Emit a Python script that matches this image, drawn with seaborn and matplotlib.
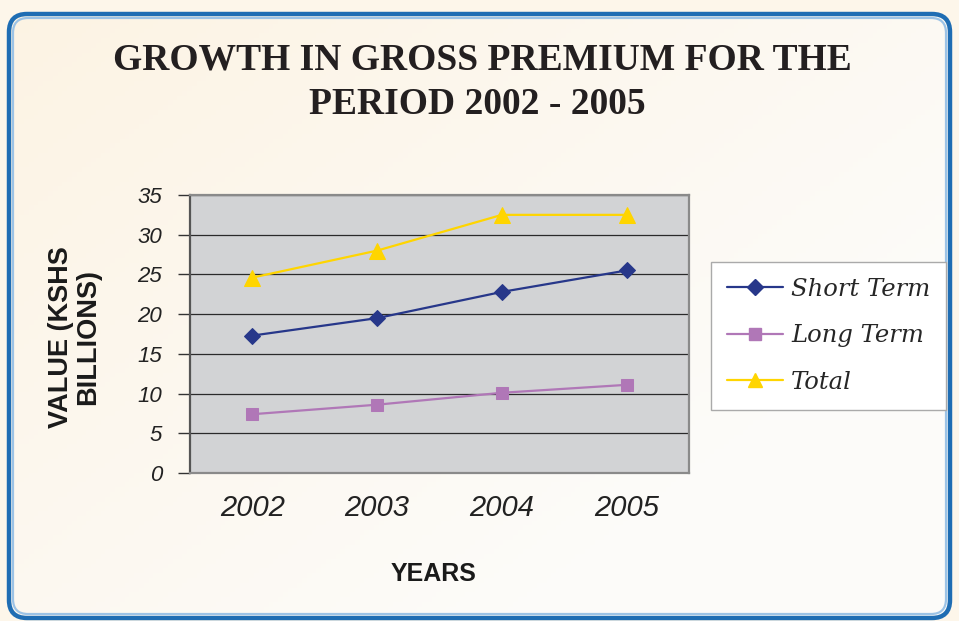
import numpy as np
import pandas as pd
import seaborn as sns
import matplotlib
matplotlib.use("Agg")
import matplotlib.pyplot as plt
from matplotlib.patches import FancyBboxPatch
from matplotlib.lines import Line2D

# Gross premium (KShs billions) by year
years = ["2002", "2003", "2004", "2005"]
short_term = [17.3, 19.5, 22.8, 25.5]
long_term = [7.4, 8.6, 10.1, 11.1]
total = [24.6, 28.0, 32.5, 32.5]

series_names = ["Short Term", "Long Term", "Total"]
series_values = [short_term, long_term, total]
series_colors = ["#27378a", "#b077b7", "#ffd500"]
series_markers = ["D", "s", "^"]
series_msizes = [8.5, 8.5, 11]

df = pd.DataFrame({"year": years * 3,
                   "value": short_term + long_term + total,
                   "series": np.repeat(series_names, len(years))})

sns.set_style("white")
W, H = 959, 621
fig = plt.figure(figsize=(W / 100, H / 100), dpi=100)
fig.patch.set_facecolor("#fdf6ea")

# Background panel with a soft cream gradient and a rounded blue frame
bg = fig.add_axes([0, 0, 1, 1], zorder=-10)
bg.set_xlim(0, W)
bg.set_ylim(H, 0)
bg.axis("off")
gx, gy = np.meshgrid(np.linspace(0, 1, 200), np.linspace(0, 1, 130))
grad = np.clip(1 - (gx * 0.7 + gy * 0.6), 0, 1)
c0 = np.array([0.992, 0.988, 0.980])
c1 = np.array([0.992, 0.953, 0.890])
img = c0[None, None, :] * (1 - grad[..., None]) + c1[None, None, :] * grad[..., None]
im = bg.imshow(img, extent=[0, W, H, 0], aspect="auto", zorder=0)
frame = FancyBboxPatch((9, 14), W - 18, H - 17, boxstyle="round,pad=0,rounding_size=18",
                       fc="none", ec="#1f6db3", lw=3.2, zorder=2)
inner = FancyBboxPatch((13, 18), W - 26, H - 25, boxstyle="round,pad=0,rounding_size=15",
                       fc="none", ec="#9cc3e6", lw=1.6, zorder=2)
bg.add_patch(frame)
bg.add_patch(inner)
im.set_clip_path(frame)

ax = fig.add_axes([190 / W, 1 - 473 / H, (689 - 190) / W, (473 - 195) / H])
ax.set_facecolor("#d2d3d5")

for name, vals, col, mk, ms in zip(series_names, series_values, series_colors,
                                   series_markers, series_msizes):
    sub = df[df["series"] == name]
    sns.lineplot(data=sub, x="year", y="value", ax=ax, color=col, marker=mk,
                 markersize=ms, markeredgecolor=col, linewidth=1.6, label=name,
                 sort=False, zorder=3)

ax.set_ylim(0, 35)
ax.set_xlim(-0.5, 3.5)
ax.set_yticks(range(0, 36, 5))
ax.set_yticklabels([str(v) for v in range(0, 36, 5)], fontsize=16,
                   fontstyle="italic", family="Liberation Sans", color="#222222")
ax.set_xticks([-0.5, 0.5, 1.5, 2.5, 3.5])
ax.set_xticklabels([])
ax.set_xticks(range(len(years)), minor=True)
ax.set_xticklabels(years, minor=True, fontsize=21, fontstyle="italic",
                   family="Liberation Sans", color="#222222")
ax.tick_params(axis="x", which="major", length=8, width=1.2, color="#666666", direction="out")
ax.tick_params(axis="x", which="minor", length=0, pad=15)
ax.tick_params(axis="y", length=9, width=1.0, color="#333333", direction="out", pad=11, left=True)
ax.grid(axis="y", color="#2a2a2a", lw=0.9)
ax.grid(axis="x", visible=False)
ax.set_axisbelow(True)
for s in ax.spines.values():
    s.set_color("#8a8a8a")
    s.set_linewidth(1.6)
ax.spines["left"].set_color("#555555")
ax.set_xlabel("")
ax.set_ylabel("")
ax.get_legend().remove()

handles = [Line2D([], [], color=c, marker=m, markersize=s * 0.95, markeredgecolor=c, lw=1.6)
           for c, m, s in zip(series_colors, series_markers, series_msizes)]
leg = fig.legend(handles, series_names, loc="upper left",
                 bbox_to_anchor=(711 / W, 1 - 262 / H),
                 prop={"family": "DejaVu Serif", "style": "italic", "size": 17.5},
                 frameon=True, fancybox=False, edgecolor="#aaaaaa", facecolor="white",
                 framealpha=1, handlelength=2.3, handletextpad=0.35,
                 labelspacing=0.97, borderpad=0.65, borderaxespad=0)
leg.get_frame().set_linewidth(1.0)

fig.text(482 / W, 1 - 60 / H, "GROWTH IN GROSS PREMIUM FOR THE", ha="center", va="center",
         family="Liberation Serif", fontweight="bold", fontsize=27, color="#231f20")
fig.text(477 / W, 1 - 105 / H, "PERIOD 2002 - 2005", ha="center", va="center",
         family="Liberation Serif", fontweight="bold", fontsize=27, color="#231f20")
fig.text(75 / W, 1 - 337 / H, "VALUE (KSHS\nBILLIONS)", ha="center", va="center",
         rotation=90, multialignment="center", family="Liberation Sans",
         fontweight="bold", fontsize=19.5, color="#1a1a1a", linespacing=1.05)
fig.text(434 / W, 1 - 574 / H, "YEARS", ha="center", va="center",
         family="Liberation Sans", fontweight="bold", fontsize=18, color="#1a1a1a")

fig.savefig("out.png", dpi=100, facecolor=fig.get_facecolor())
